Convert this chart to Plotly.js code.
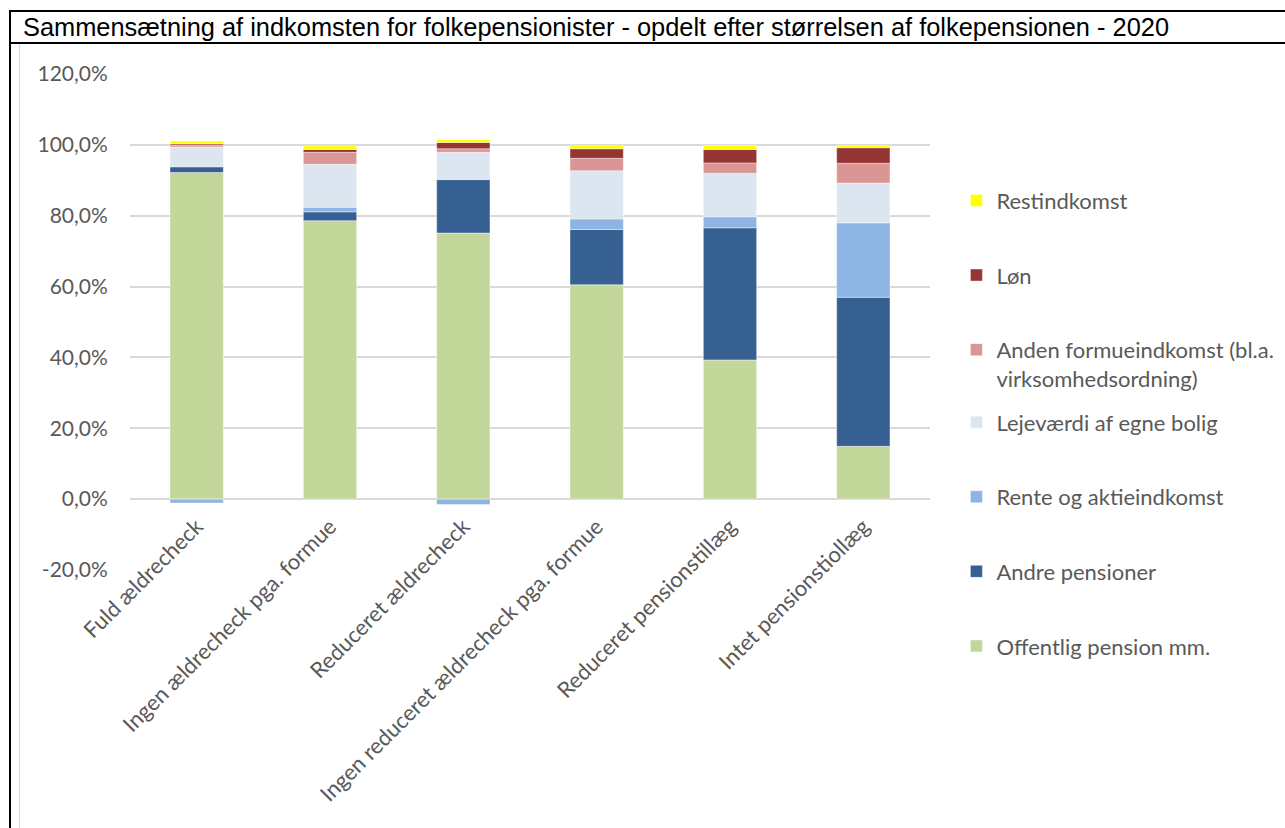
<!DOCTYPE html>
<html>
<head>
<meta charset="utf-8">
<script src="https://cdn.plot.ly/plotly-3.0.1.min.js"></script>
<style>
  html, body { margin: 0; padding: 0; background: #fff; }
  #wrap { position: relative; width: 1285px; height: 828px; overflow: hidden; }
  #chart { position: absolute; left: 0; top: 0; width: 1285px; height: 828px; }
  .ln { position: absolute; background: #000; z-index: 5; }
</style>
</head>
<body>
<div id="wrap">
  <div id="chart"></div>
  <div class="ln" style="left:9px; top:10px; width:1276px; height:2px;"></div>
  <div class="ln" style="left:9px; top:42px; width:1276px; height:2px;"></div>
  <div class="ln" style="left:9px; top:10px; width:2px; height:818px;"></div>
  <div class="ln" style="left:19px; top:44px; width:1px; height:784px; background:#d9d9d9;"></div>
</div>
<script>
const categories = [
  "Fuld ældrecheck",
  "Ingen ældrecheck pga. formue",
  "Reduceret ældrecheck",
  "Ingen reduceret ældrecheck pga. formue",
  "Reduceret pensionstillæg",
  "Intet pensionstiollæg"
];

const offentligPension = [92.2, 78.6, 75.1, 60.5, 39.3, 14.9];
const andrePensioner   = [1.6, 2.5, 15.1, 15.6, 37.3, 42.1];
const renteAktie       = [-1.1, 1.3, -1.5, 3.0, 3.1, 21.0];
const lejevaerdi       = [5.6, 12.1, 7.7, 13.6, 12.3, 11.2];
const andenFormue      = [0.5, 3.4, 1.0, 3.5, 2.9, 5.6];
const loen             = [0.4, 0.8, 1.8, 2.7, 3.8, 4.4];
const restindkomst     = [0.8, 1.0, 0.8, 1.0, 1.2, 0.7];

const yTickVals  = [-20, 0, 20, 40, 60, 80, 100, 120];
const yTickTexts = ["-20,0%", "0,0%", "20,0%", "40,0%", "60,0%", "80,0%", "100,0%", "120,0%"];

const seriesNames = [
  "Offentlig pension mm.",
  "Andre pensioner",
  "Rente og aktieindkomst",
  "Lejeværdi af egne bolig",
  "Anden formueindkomst (bl.a.<br>virksomhedsordning)",
  "Løn",
  "Restindkomst"
];
const seriesValues = [offentligPension, andrePensioner, renteAktie, lejevaerdi, andenFormue, loen, restindkomst];
const seriesColors = ["#C4D79B", "#366092", "#8DB4E2", "#DCE6F1", "#DA9694", "#963634", "#FFFF00"];
const seriesLegend = ["legend2", "legend2", "legend2", "legend2", "legend", "legend", "legend"];

const FONT = "Lato, 'Open Sans', sans-serif";
const GRAY = "#595959";

const traces = seriesNames.map((name, i) => ({
  type: "bar",
  name: name,
  x: categories,
  y: seriesValues[i],
  legend: seriesLegend[i],
  legendgroup: "g" + i,
  legendrank: 1000 - i,
  marker: { color: seriesColors[i], line: { color: "rgba(255,255,255,0.7)", width: 0.6 } },
  hoverinfo: "x+y+name"
}));

const legendCommon = {
  traceorder: "grouped",
  tracegroupgap: 43,
  valign: "top",
  font: { family: FONT, size: 22, color: GRAY },
  bgcolor: "rgba(0,0,0,0)",
  xanchor: "left",
  yanchor: "top",
  itemwidth: 30
};

const layout = {
  width: 1285,
  height: 828,
  margin: { l: 130, r: 355, t: 74, b: 258, autoexpand: false },
  paper_bgcolor: "rgba(0,0,0,0)",
  plot_bgcolor: "#fff",
  separators: ",.",
  barmode: "relative",
  bargap: 0.6,
  title: {
    text: "Sammensætning af indkomsten for folkepensionister - opdelt efter størrelsen af folkepensionen - 2020",
    font: { family: "'Liberation Sans', Arial, sans-serif", size: 25.4, color: "#000" },
    x: 23 / 1285, xanchor: "left", xref: "container",
    y: 1 - 27 / 828, yanchor: "middle", yref: "container"
  },
  xaxis: {
    type: "category",
    tickangle: -45,
    tickfont: { family: FONT, size: 22, color: GRAY },
    showgrid: false,
    showline: false,
    ticks: "outside",
    ticklen: 5,
    tickcolor: "rgba(0,0,0,0)",
    anchor: "free",
    position: (570 - 499) / 496,
    automargin: false
  },
  yaxis: {
    range: [-20, 120],
    tickmode: "array",
    tickvals: yTickVals,
    ticktext: yTickTexts,
    tickfont: { family: FONT, size: 21, color: GRAY },
    showgrid: true,
    gridcolor: "#D9D9D9",
    gridwidth: 1.5,
    zeroline: true,
    zerolinecolor: "#D9D9D9",
    zerolinewidth: 1.5,
    showline: false,
    ticks: "outside",
    ticklen: 17,
    tickcolor: "rgba(0,0,0,0)",
    automargin: false
  },
  legend: Object.assign({}, legendCommon, { x: 1.033, y: 0.787 }),
  legend2: Object.assign({}, legendCommon, { x: 1.033, y: 0.34 })
};

Plotly.newPlot("chart", traces, layout, { displayModeBar: false });
</script>
</body>
</html>
